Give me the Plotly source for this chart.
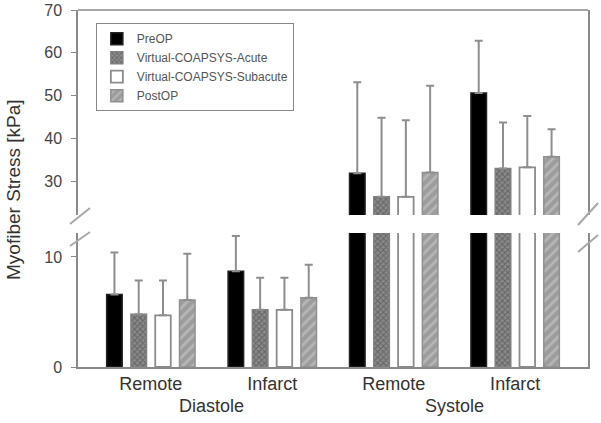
import plotly.graph_objects as go

# ---- data ----
phases = ["Diastole", "Diastole", "Systole", "Systole"]
regions = ["Remote", "Infarct", "Remote", "Infarct"]
series_names = ["PreOP", "Virtual-COAPSYS-Acute", "Virtual-COAPSYS-Subacute", "PostOP"]

preop = [6.6, 8.7, 31.8, 50.6]
preop_err = [3.8, 3.2, 21.3, 12.2]
acute = [4.8, 5.2, 26.3, 32.9]
acute_err = [3.05, 2.9, 18.5, 10.8]
subacute = [4.7, 5.2, 26.3, 33.2]
subacute_err = [3.15, 2.9, 17.9, 12.0]
postop = [6.1, 6.3, 32.0, 35.7]
postop_err = [4.2, 3.0, 20.3, 6.4]

lower_ticks = [0, 10]
upper_ticks = [30, 40, 50, 60, 70]

values = [preop, acute, subacute, postop]
errors = [preop_err, acute_err, subacute_err, postop_err]

styles = [
    dict(color="#000000", line=dict(color="#222222", width=1.5)),
    dict(color="#777777", line=dict(color="#808080", width=1.5),
         pattern=dict(shape="x", bgcolor="#8a8a8a", fgcolor="#3c3c3c", size=4, solidity=0.45)),
    dict(color="#ffffff", line=dict(color="#8c8c8c", width=1.8)),
    dict(color="#a0a0a0", line=dict(color="#909090", width=1.5),
         pattern=dict(shape="/", bgcolor="#9c9c9c", fgcolor="#cfcfcf", size=7, solidity=0.4)),
]

fig = go.Figure()
x = [phases, regions]
for axis, show in (("y", True), ("y2", False)):
    for name, vals, errs, st in zip(series_names, values, errors, styles):
        fig.add_trace(go.Bar(
            x=x, y=vals, name=name, yaxis=axis, showlegend=show,
            marker=st,
            error_y=dict(type="data", array=errs, arrayminus=[0] * len(errs),
                         symmetric=False, color="#8e8e8e", thickness=2, width=4),
        ))

axis_col = "#8a8a8a"
font_fam = "Liberation Sans, Arial, sans-serif"

fig.update_layout(
    width=601, height=423,
    margin=dict(l=78, r=13, t=10, b=56),
    paper_bgcolor="white", plot_bgcolor="white",
    barmode="group", bargap=0.2, bargroupgap=0.36,
    font=dict(family=font_fam, size=14, color="#333333"),
    xaxis=dict(type="multicategory", range=[-0.6, 3.6], showdividers=False,
               automargin=False,
               showline=True, linecolor=axis_col, linewidth=1.5, ticks="",
               showgrid=False, tickfont=dict(size=18, color="#333333")),
    yaxis=dict(domain=[0, 0.3754], range=[0, 12.18], tickvals=lower_ticks,
               automargin=False,
               showline=True, linecolor=axis_col, linewidth=1.5, mirror=True,
               ticks="outside", ticklen=5, tickcolor=axis_col, showgrid=False,
               ticklabelstandoff=6,
               zeroline=False, tickfont=dict(size=16, color="#444444")),
    yaxis2=dict(domain=[0.4258, 1], range=[22.05, 70], tickvals=upper_ticks,
                anchor="x", automargin=False,
                showline=True, linecolor=axis_col, linewidth=1.5, mirror=True,
                ticks="outside", ticklen=5, tickcolor=axis_col, showgrid=False,
                ticklabelstandoff=6,
                zeroline=False, tickfont=dict(size=16, color="#444444")),
    legend=dict(x=0.035, y=0.963, xanchor="left", yanchor="top",
                bordercolor="#888888", borderwidth=1, bgcolor="white",
                font=dict(size=12, color="#555555"), tracegroupgap=0,
                itemwidth=30),
)

# top border of frame
fig.add_shape(type="line", xref="paper", yref="paper", x0=0, x1=1, y0=1, y1=1,
              line=dict(color=axis_col, width=1.5))

# axis break marks (pixel-based on paper)
W, H = 510.0, 357.0
def px(xp):
    return (xp - 78) / W
def py(yp):
    return (367 - yp) / H

for (x0, y0, x1, y1) in [(70, 224, 90, 208), (70, 246, 90, 232),
                         (578, 225, 598, 203), (578, 252, 598, 235)]:
    fig.add_shape(type="line", xref="paper", yref="paper",
                  x0=px(x0), y0=py(y0), x1=px(x1), y1=py(y1),
                  line=dict(color="#a8a8a8", width=2))

fig.add_annotation(text="Myofiber Stress [kPa]", xref="paper", yref="paper",
                   x=px(13), y=py(190), textangle=-90, showarrow=False,
                   xanchor="center", yanchor="middle",
                   font=dict(size=19, color="#333333"))

fig.write_html("out.html", config={"displayModeBar": False},
               post_script="document.body.style.margin='0';")
